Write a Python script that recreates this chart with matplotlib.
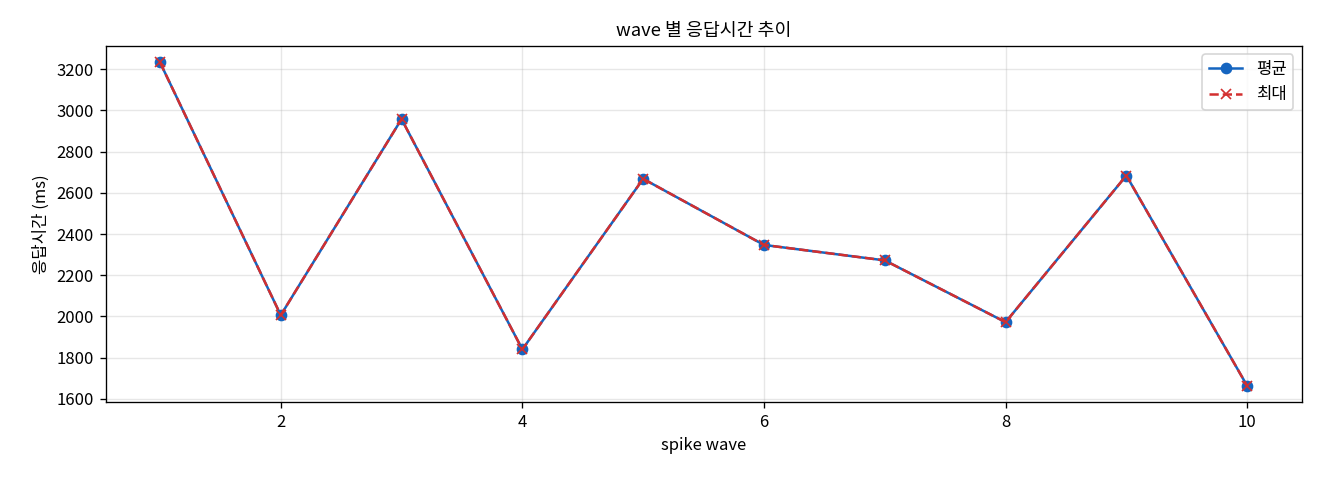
import numpy as np
import matplotlib
matplotlib.use('Agg')
import matplotlib.pyplot as plt

plt.rcParams['font.family'] = ['Noto Sans CJK KR', 'DejaVu Sans']
plt.rcParams['axes.unicode_minus'] = False

waves = [1, 2, 3, 4, 5, 6, 7, 8, 9, 10]
avg_ms = [3234, 2006, 2958, 1840, 2668, 2347, 2272, 1972, 2684, 1663]
max_ms = [3234, 2006, 2958, 1840, 2668, 2347, 2272, 1972, 2684, 1663]

fig, ax = plt.subplots(figsize=(11, 4), dpi=120)
ax.plot(waves, avg_ms, marker='o', color='#1565C0', linewidth=1.5, markersize=6, label='평균')
ax.plot(waves, max_ms, marker='x', linestyle='--', color='#D32F2F', linewidth=1.5, markersize=6, label='최대')
ax.set_title('wave 별 응답시간 추이', fontsize=11)
ax.set_xlabel('spike wave', fontsize=10)
ax.set_ylabel('응답시간 (ms)', fontsize=10)
ax.grid(True, alpha=0.3)
ax.legend(loc='upper right')
fig.subplots_adjust(left=0.080, right=0.986, top=0.904, bottom=0.1625)
plt.savefig('out.png')
